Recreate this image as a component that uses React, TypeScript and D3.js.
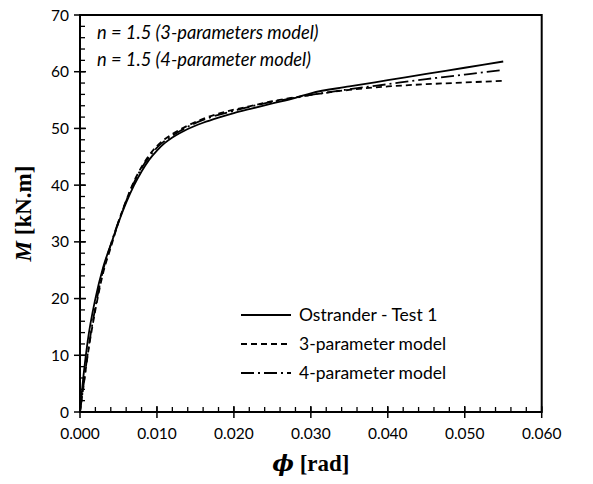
import React from "react";
import * as d3 from "d3";

const phi = [0, 0.0005, 0.001, 0.002, 0.003, 0.004, 0.005, 0.006, 0.007, 0.008, 0.009, 0.010, 0.011, 0.012, 0.013, 0.014, 0.016, 0.018, 0.020, 0.022, 0.025, 0.028, 0.030, 0.035, 0.040, 0.045, 0.050, 0.055];
const ostrander = [0, 7, 12.5, 20, 25.5, 29.5, 33.4, 36.9, 39.9, 42.4, 44.5, 46.1, 47.4, 48.4, 49.2, 49.9, 51.0, 51.9, 52.7, 53.4, 54.4, 55.4, 56.2, 57.4, 58.5, 59.6, 60.7, 61.8];
const model3 = [0, 5, 10, 18, 24.5, 29, 33.5, 37.3, 40.6, 43.2, 45.3, 46.9, 48.1, 49.0, 49.8, 50.5, 51.7, 52.6, 53.3, 53.9, 54.8, 55.5, 55.9, 56.8, 57.4, 57.8, 58.1, 58.4];
const model4 = [0, 5.2, 10.3, 18.5, 25, 29.5, 33.6, 37.2, 40.4, 43, 45, 46.6, 47.8, 48.7, 49.55, 50.3, 51.5, 52.4, 53.1, 53.8, 54.7, 55.4, 55.9, 56.9, 57.8, 58.7, 59.5, 60.3];

const xTicks = [0, 0.01, 0.02, 0.03, 0.04, 0.05, 0.06];
const yTicks = [0, 10, 20, 30, 40, 50, 60, 70];
const legendLabels = ["Ostrander - Test 1", "3-parameter model", "4-parameter model"];
const notes = ["n = 1.5 (3-parameters model)", "n = 1.5 (4-parameter model)"];

const W = 593, H = 484;
const L = 80, R = 541.7, T = 15, B = 412;

export default function App() {
  const x = d3.scaleLinear().domain([0, 0.06]).range([L, R]);
  const y = d3.scaleLinear().domain([0, 70]).range([B, T]);
  const line = d3.line<[number, number]>().x(d => x(d[0])).y(d => y(d[1])).curve(d3.curveMonotoneX);
  const series = [
    { vals: ostrander, dash: undefined as string | undefined },
    { vals: model3, dash: "6,4" },
    { vals: model4, dash: "13,4,2,4" },
  ];
  const xMinor = d3.range(0, 31).map(i => i * 0.002);
  const yMinor = d3.range(0, 36).map(i => i * 2);
  const font = "Lato, 'Open Sans', sans-serif";
  return (
    <svg width={W} height={H} style={{ position: "absolute", left: 0, top: 0, background: "#fff" }}>
      <rect x={0} y={0} width={W} height={H} fill="#fff" />
      {series.map((s, i) => (
        <path key={i} d={line(phi.map((p, j) => [p, s.vals[j]] as [number, number])) || ""} fill="none" stroke="#000" strokeWidth={1.8} strokeDasharray={s.dash} />
      ))}
      <rect x={L} y={T} width={R - L} height={B - T} fill="none" stroke="#000" strokeWidth={2} />
      {xMinor.map((v, i) => (
        <line key={"xm" + i} x1={x(v)} x2={x(v)} y1={B} y2={B - 5} stroke="#000" strokeWidth={1.3} />
      ))}
      {xTicks.map((v, i) => (
        <g key={"xt" + i}>
          <line x1={x(v)} x2={x(v)} y1={B - 6} y2={B + 6} stroke="#000" strokeWidth={1.5} />
          <text x={x(v)} y={B + 27} textAnchor="middle" fontFamily={font} fontSize={15.5} fill="#000">{d3.format(".3f")(v)}</text>
        </g>
      ))}
      {yMinor.map((v, i) => (
        <line key={"ym" + i} x1={L} x2={L + 5} y1={y(v)} y2={y(v)} stroke="#000" strokeWidth={1.3} />
      ))}
      {yTicks.map((v, i) => (
        <g key={"yt" + i}>
          <line x1={L - 6} x2={L + 6} y1={y(v)} y2={y(v)} stroke="#000" strokeWidth={1.5} />
          <text x={L - 11} y={y(v) + 5.5} textAnchor="end" fontFamily={font} fontSize={15.5} fill="#000">{v}</text>
        </g>
      ))}
      <text x={(L + R) / 2} y={471} textAnchor="middle" fontFamily="'DejaVu Serif', 'Liberation Serif', serif" fontSize={23} fontWeight="bold" fill="#000">
        <tspan fontStyle="italic">ϕ</tspan>
        <tspan fontFamily="'Liberation Serif', serif"> [rad]</tspan>
      </text>
      <text transform={`translate(31, ${(T + B) / 2}) rotate(-90)`} textAnchor="middle" fontFamily="'Liberation Serif', serif" fontSize={23} fontWeight="bold" fill="#000">
        <tspan fontStyle="italic">M</tspan>
        <tspan> [kN.m]</tspan>
      </text>
      {notes.map((t, i) => (
        <text key={"n" + i} x={97} y={39 + i * 27} fontFamily={font} fontStyle="italic" fontSize={18.3} fill="#000">{t}</text>
      ))}
      {legendLabels.map((t, i) => (
        <g key={"lg" + i}>
          <line x1={241} x2={291} y1={315 + i * 29} y2={315 + i * 29} stroke="#000" strokeWidth={1.8} strokeDasharray={series[i].dash} />
          <text x={299} y={321 + i * 29} fontFamily={font} fontSize={17.5} fill="#000">{t}</text>
        </g>
      ))}
    </svg>
  );
}
